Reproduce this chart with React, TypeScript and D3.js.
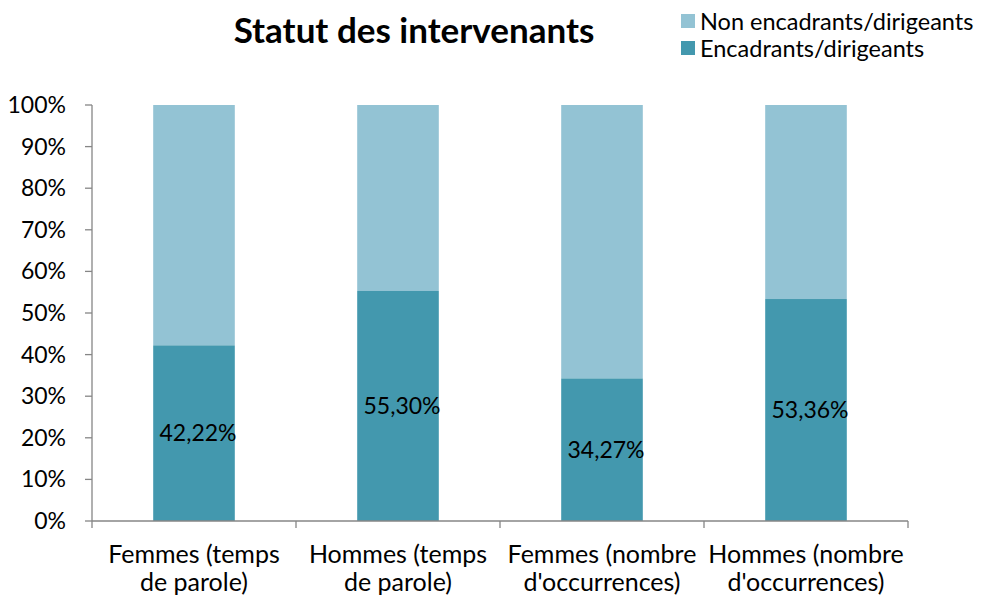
import React, { useEffect, useRef } from 'react';
import * as d3 from 'd3';

const categories = [
  ['Femmes (temps', 'de parole)'],
  ['Hommes (temps', 'de parole)'],
  ['Femmes (nombre', "d'occurrences)"],
  ['Hommes (nombre', "d'occurrences)"],
];
const encadrants = [42.22, 55.3, 34.27, 53.36];
const seriesNames = ['Non encadrants/dirigeants', 'Encadrants/dirigeants'];
const yTicks = [0, 10, 20, 30, 40, 50, 60, 70, 80, 90, 100];

const colorDark = '#4398ae';
const colorLight = '#93c3d4';
const axisColor = '#868686';
const font = 'Lato, Calibri, sans-serif';

const App = () => {
  const ref = useRef<SVGSVGElement>(null);
  const width = 991;
  const height = 599;
  const margin = { top: 105, right: 83, bottom: 78, left: 92 };

  useEffect(() => {
    const svg = d3.select(ref.current);
    svg.selectAll('*').remove();

    const x = d3
      .scaleBand()
      .domain(categories.map((_, i) => String(i)))
      .range([margin.left, width - margin.right])
      .paddingInner(0.6)
      .paddingOuter(0.3);
    const step = x.step();

    const y = d3
      .scaleLinear()
      .domain([0, 100])
      .range([height - margin.bottom, margin.top]);

    // bars
    encadrants.forEach((v, i) => {
      const xi = x(String(i))!;
      svg
        .append('rect')
        .attr('x', xi)
        .attr('y', y(100))
        .attr('width', x.bandwidth())
        .attr('height', y(v) - y(100))
        .attr('fill', colorLight);
      svg
        .append('rect')
        .attr('x', xi)
        .attr('y', y(v))
        .attr('width', x.bandwidth())
        .attr('height', y(0) - y(v))
        .attr('fill', colorDark);
      svg
        .append('text')
        .attr('x', xi + x.bandwidth() / 2 + 4)
        .attr('y', y(v / 2) + 8)
        .attr('text-anchor', 'middle')
        .style('font-family', font)
        .style('font-size', '23px')
        .attr('fill', '#000')
        .text(v.toFixed(2).replace('.', ',') + '%');
    });

    // y axis
    const yAxis = svg.append('g');
    yAxis
      .append('line')
      .attr('x1', margin.left)
      .attr('x2', margin.left)
      .attr('y1', y(100))
      .attr('y2', y(0))
      .attr('stroke', axisColor)
      .attr('stroke-width', 1.3);
    yTicks.forEach((t) => {
      yAxis
        .append('line')
        .attr('x1', margin.left - 7)
        .attr('x2', margin.left)
        .attr('y1', y(t))
        .attr('y2', y(t))
        .attr('stroke', axisColor)
        .attr('stroke-width', 1.3);
      yAxis
        .append('text')
        .attr('x', margin.left - 26)
        .attr('y', y(t) + 8)
        .attr('text-anchor', 'end')
        .style('font-family', font)
        .style('font-size', '23px')
        .attr('fill', '#000')
        .text(`${t}%`);
    });

    // x axis
    const xAxis = svg.append('g');
    xAxis
      .append('line')
      .attr('x1', margin.left)
      .attr('x2', width - margin.right)
      .attr('y1', y(0))
      .attr('y2', y(0))
      .attr('stroke', axisColor)
      .attr('stroke-width', 1.3);
    d3.range(categories.length + 1).forEach((i) => {
      const xt = margin.left + i * step;
      xAxis
        .append('line')
        .attr('x1', xt)
        .attr('x2', xt)
        .attr('y1', y(0))
        .attr('y2', y(0) + 7)
        .attr('stroke', axisColor)
        .attr('stroke-width', 1.3);
    });
    categories.forEach((lines, i) => {
      const cx = x(String(i))! + x.bandwidth() / 2;
      lines.forEach((l, j) => {
        xAxis
          .append('text')
          .attr('x', cx)
          .attr('y', 563 + j * 28)
          .attr('text-anchor', 'middle')
          .style('font-family', font)
          .style('font-size', '25px')
          .attr('fill', '#000')
          .text(l);
      });
    });

    // title
    svg
      .append('text')
      .attr('x', 414)
      .attr('y', 43)
      .attr('text-anchor', 'middle')
      .style('font-family', font)
      .style('font-size', '35px')
      .style('font-weight', 'bold')
      .attr('fill', '#000')
      .text('Statut des intervenants');

    // legend
    const legend = svg.append('g').attr('transform', 'translate(681, 14)');
    [colorLight, colorDark].forEach((c, i) => {
      legend
        .append('rect')
        .attr('x', 0)
        .attr('y', i * 27)
        .attr('width', 14)
        .attr('height', 14)
        .attr('fill', c);
      legend
        .append('text')
        .attr('x', 19)
        .attr('y', i * 27 + 16)
        .style('font-family', font)
        .style('font-size', '23.5px')
        .attr('fill', '#000')
        .text(seriesNames[i]);
    });
  }, []);

  return (
    <svg
      ref={ref}
      width={width}
      height={height}
      style={{ position: 'absolute', left: 0, top: 0, background: '#fff' }}
    />
  );
};

export default App;
